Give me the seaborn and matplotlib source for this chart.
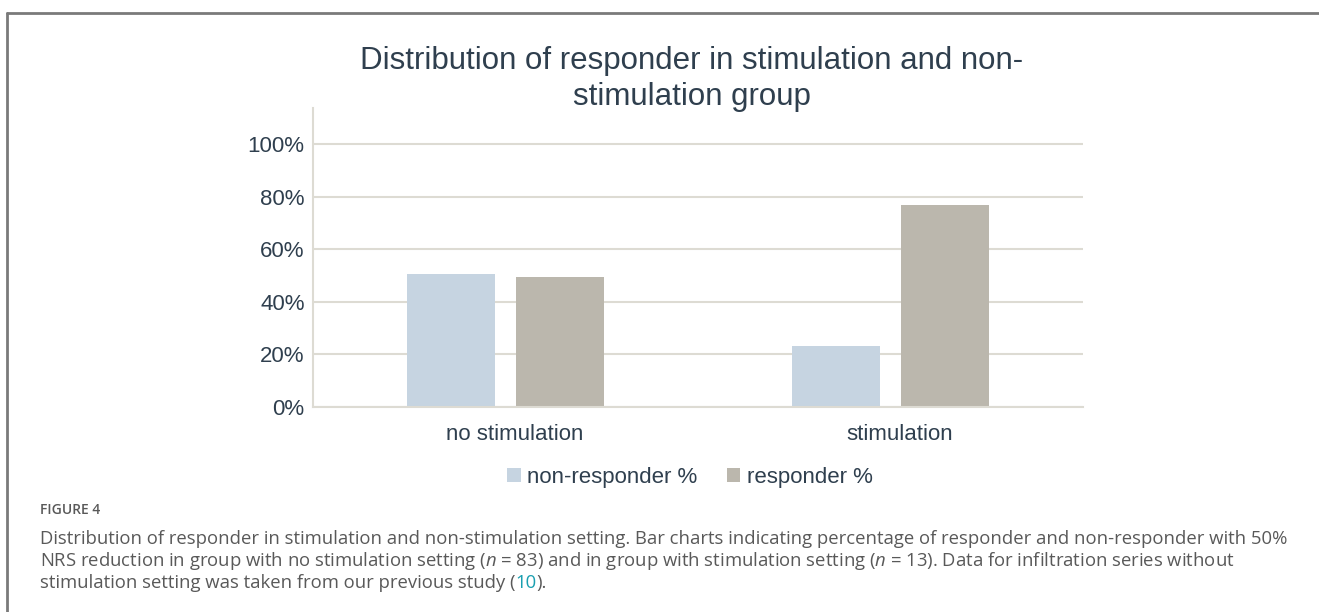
import pandas as pd
import seaborn as sns
import matplotlib.pyplot as plt
import matplotlib.transforms as mtransforms
from matplotlib.ticker import PercentFormatter

# values (fractions)
groups = ['no stimulation', 'stimulation']
series = ['non-responder %', 'responder %']
non_responder = [0.506, 0.231]
responder = [0.494, 0.769]
bar_colors = ['#C6D4E1', '#BBB7AD']

title = 'Distribution of responder in stimulation and non-\nstimulation group'
caption_lines = [
    'Distribution of responder in stimulation and non-stimulation setting. Bar charts indicating percentage of responder and non-responder with 50%',
    'NRS reduction in group with no stimulation setting ($n$ = 83) and in group with stimulation setting ($n$ = 13). Data for infiltration series without',
    'stimulation setting was taken from our previous study (',
]

df = pd.DataFrame({
    'group': groups * 2,
    'series': [series[0]] * 2 + [series[1]] * 2,
    'value': non_responder + responder,
})

sns.set_theme(style='white')
plt.rcParams['font.family'] = ['Liberation Sans', 'DejaVu Sans']
plt.rcParams['mathtext.fontset'] = 'custom'
plt.rcParams['mathtext.it'] = 'Open Sans:italic'
plt.rcParams['mathtext.rm'] = 'Open Sans'

txt_col = '#2F3F4E'
grid_col = '#DDDBD3'

fig = plt.figure(figsize=(13.19, 6.12), dpi=100)
ax = fig.add_axes([0.2373, 0.335, 0.5838, 0.4886])

sns.barplot(data=df, x='group', y='value', hue='series', palette=bar_colors,
            width=0.566, gap=0.2, ax=ax, saturation=1, edgecolor='none')

ax.set_ylim(0, 1.137)
ax.set_xlim(-0.5, 1.5)
ax.set_yticks([0, 0.2, 0.4, 0.6, 0.8, 1.0])
ax.yaxis.set_major_formatter(PercentFormatter(1.0, decimals=0))
ax.yaxis.grid(True, color=grid_col, lw=1.5)
ax.set_axisbelow(True)
ax.set_xlabel('')
ax.set_ylabel('')
ax.tick_params(axis='both', length=0, labelsize=16, labelcolor=txt_col)
ax.tick_params(axis='y', pad=6)
ax.tick_params(axis='x', pad=12)
# category labels sit a little right of the bar groups in the original
shift = mtransforms.ScaledTranslation(9 / 100, 0, fig.dpi_scale_trans)
for lbl in ax.get_xticklabels():
    lbl.set_transform(lbl.get_transform() + shift)
for s in ['top', 'right']:
    ax.spines[s].set_visible(False)
for s in ['left', 'bottom']:
    ax.spines[s].set_color(grid_col)
    ax.spines[s].set_linewidth(1.5)

sns.move_legend(ax, 'center', bbox_to_anchor=(690 / 1319, 1 - 477 / 612),
                bbox_transform=fig.transFigure, ncol=2, frameon=False, title=None,
                fontsize=16, handlelength=0.6, handleheight=0.6,
                handletextpad=0.3, columnspacing=1.3, labelcolor=txt_col)

fig.text(692 / 1319, 1 - 79 / 612, title, ha='center', va='center',
         fontsize=22.5, color=txt_col, linespacing=1.3)

# frame around the figure panel
fig.add_artist(plt.Line2D([7 / 1319, 7 / 1319], [0, 1 - 13 / 612], color='#7A7A7A', lw=2))
fig.add_artist(plt.Line2D([7 / 1319, 1], [1 - 13 / 612, 1 - 13 / 612], color='#7A7A7A', lw=2))

cap_col = '#595959'
fig.text(40 / 1319, 1 - 510 / 612, 'FIGURE 4', ha='left', va='center',
         fontsize=10, color=cap_col, family='Open Sans', weight='semibold')
ys = [539, 561, 583]
last = None
for line, y in zip(caption_lines, ys):
    last = fig.text(40 / 1319, 1 - y / 612, line, ha='left', va='center',
                    fontsize=13.3, color=cap_col, family='Open Sans')
ref = ax.annotate('10', xy=(1, 0), xycoords=last, va='bottom', ha='left',
                  fontsize=13.3, color='#1A9FB0', family='Open Sans')
ax.annotate(').', xy=(1, 0), xycoords=ref, va='bottom', ha='left',
            fontsize=13.3, color=cap_col, family='Open Sans')

fig.savefig('out.png', dpi=100)
